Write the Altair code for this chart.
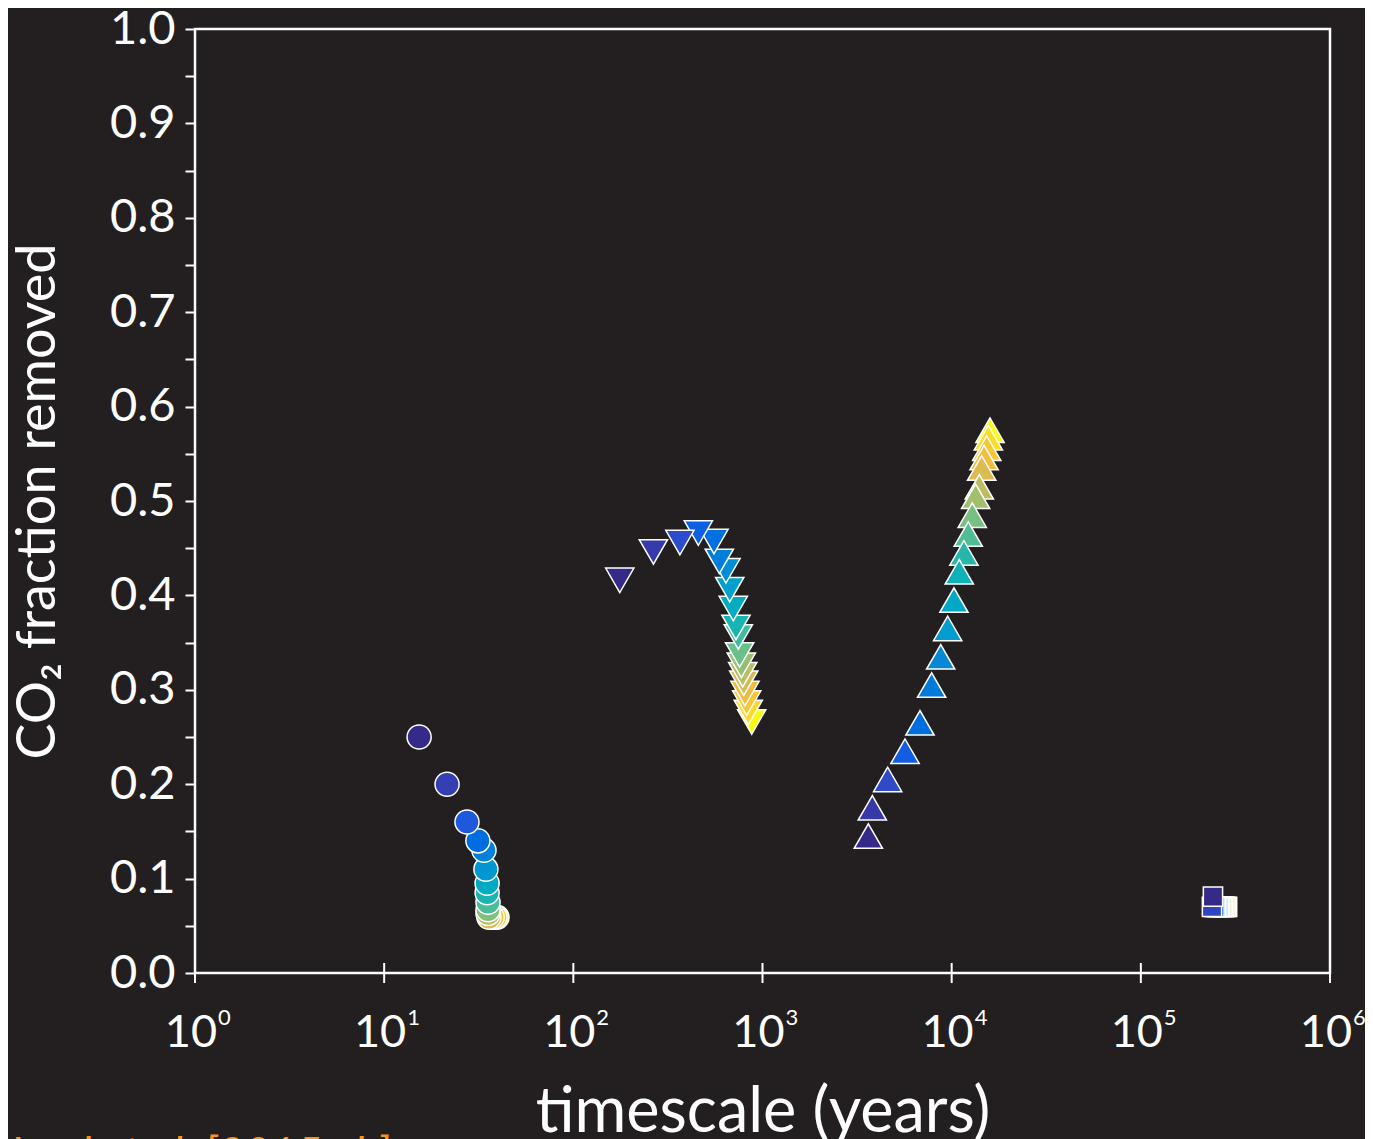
import altair as alt
import pandas as pd

# ---- data (timescale in years, CO2 fraction removed) ----
circ_t = [15.3, 21.5, 27.4, 31.3, 33.7, 34.5, 35.0, 35.0, 35.4, 35.4, 35.4, 35.8, 37.2, 38.5, 39.5]
circ_f = [0.25, 0.20, 0.16, 0.14, 0.13, 0.11, 0.095, 0.085, 0.075, 0.067, 0.063, 0.059, 0.059, 0.059, 0.059]

down_t = [176, 265, 366, 458, 554, 591, 641, 671, 701, 724, 745, 757, 773, 786, 796, 808, 825, 841, 877]
down_f = [0.416, 0.446, 0.456, 0.466, 0.457, 0.436, 0.426, 0.406, 0.386, 0.366, 0.356, 0.337,
          0.326, 0.316, 0.307, 0.296, 0.286, 0.276, 0.266]

up_t = [3626, 3806, 4588, 5667, 6800, 7834, 8750, 9526, 10280, 10970, 11610, 12240, 12850,
        13390, 14000, 14410, 14830, 15320, 15630, 15950]
up_f = [0.145, 0.175, 0.205, 0.235, 0.265, 0.305, 0.335, 0.365, 0.395, 0.425, 0.445, 0.465,
        0.485, 0.505, 0.515, 0.535, 0.546, 0.556, 0.567, 0.575]

sq_t = [240600, 237700, 245100, 249300, 253600, 258000, 262400, 267000, 271600, 276300, 281000, 285800]
sq_f = [0.081, 0.070, 0.070, 0.070, 0.070, 0.070, 0.070, 0.070, 0.070, 0.070, 0.070, 0.070]

decades = [1, 10, 100, 1000, 10000, 100000, 1000000]
exponents = ["0", "1", "2", "3", "4", "5", "6"]
y_ticks = [0.0, 0.05, 0.1, 0.15, 0.2, 0.25, 0.3, 0.35, 0.4, 0.45, 0.5,
           0.55, 0.6, 0.65, 0.7, 0.75, 0.8, 0.85, 0.9, 0.95, 1.0]

x_title = "timescale (years)"
y_title = "CO\u2082 fraction removed"
citation = "Lord et al. [2015a,b]"

# ---- style ----
FONT = "Lato"
BG = "#231f20"
parula = ["#352a87", "#3540b8", "#145ce2", "#0072e0", "#1485d4", "#06a0cc", "#0fb0bc",
          "#2eb8a4", "#6cc08a", "#a8bf6c", "#d1bb59", "#f6bc3c", "#fcce2e", "#f9fb0e"]
cdomain = [i / (len(parula) - 1) for i in range(len(parula))]


def frame(t, f):
    n = len(t)
    return pd.DataFrame({"t": t, "f": f, "c": [i / (n - 1) for i in range(n)]})


xs = alt.Scale(type="log", domain=[1, 1000000])
ys = alt.Scale(domain=[0, 1], nice=False, zero=False)
cs = alt.Scale(domain=cdomain, range=parula)

xaxis = alt.Axis(labels=False, ticks=False, domain=False, grid=False,
                 title=x_title, titleFont=FONT, titleFontSize=63, titleFontWeight="normal",
                 titleColor="white", titleBaseline="alphabetic", titleY=158)
yaxis = alt.Axis(values=y_ticks, grid=False, domain=False, ticks=True, tickSize=10, tickWidth=2,
                 tickColor="white",
                 labelExpr="round(datum.value*100) % 10 == 0 ? format(datum.value, '.1f') : ''",
                 labelFont=FONT, labelFontSize=47, labelColor="white", labelPadding=10,
                 labelBaseline="middle",
                 title=y_title, titleFont=FONT, titleFontSize=54, titleFontWeight="normal",
                 titleColor="white", titleAngle=270, titleBaseline="alphabetic", titleX=-141)

X = alt.X("t:Q", scale=xs, axis=xaxis)
Y = alt.Y("f:Q", scale=ys, axis=yaxis)


def pts(df, shape, size):
    return alt.Chart(df).mark_point(shape=shape, size=size, filled=True, opacity=1,
                                    stroke="white", strokeWidth=1.5).encode(
        x=X, y=Y,
        color=alt.Color("c:Q", scale=cs, legend=None),
        order=alt.Order("c:Q", sort="descending"),
    )


circles = pts(frame(circ_t, circ_f), "circle", 580)
downs = pts(frame(down_t, down_f), "triangle-down", 800)
ups = pts(frame(up_t, up_f), "triangle-up", 800)
squares = pts(frame(sq_t, sq_f), "square", 370)

lab = pd.DataFrame({"t": decades, "e": exponents})
xticks = alt.Chart(lab).mark_rule(color="white", strokeWidth=2).encode(
    x=X, y=alt.value(934), y2=alt.value(954))
ten = alt.Chart(lab).mark_text(text="10", align="right", baseline="alphabetic", dx=22,
                               font=FONT, fontSize=45, color="white").encode(
    x=X, y=alt.value(1018))
sup = alt.Chart(lab).mark_text(align="left", baseline="alphabetic", dx=23,
                               font=FONT, fontSize=22, color="white").encode(
    x=X, y=alt.value(996), text="e:N")
cite = alt.Chart(pd.DataFrame({"s": [citation]})).mark_text(
    align="left", baseline="top", font=FONT, fontStyle="italic", fontSize=45,
    color="#f7941d").encode(x=alt.value(-185), y=alt.value(1104), text="s:N")

chart = alt.layer(xticks, squares, ups, downs, circles, ten, sup, cite).properties(
    width=1135, height=944,
    autosize=alt.AutoSizeParams(type="none"),
    padding={"left": 187, "top": 21, "right": 35, "bottom": 170},
    background=BG,
).configure_view(stroke="white", strokeWidth=2.5).configure_axis(grid=False)

chart.save("out.html", embed_options={"renderer": "svg", "actions": False})
